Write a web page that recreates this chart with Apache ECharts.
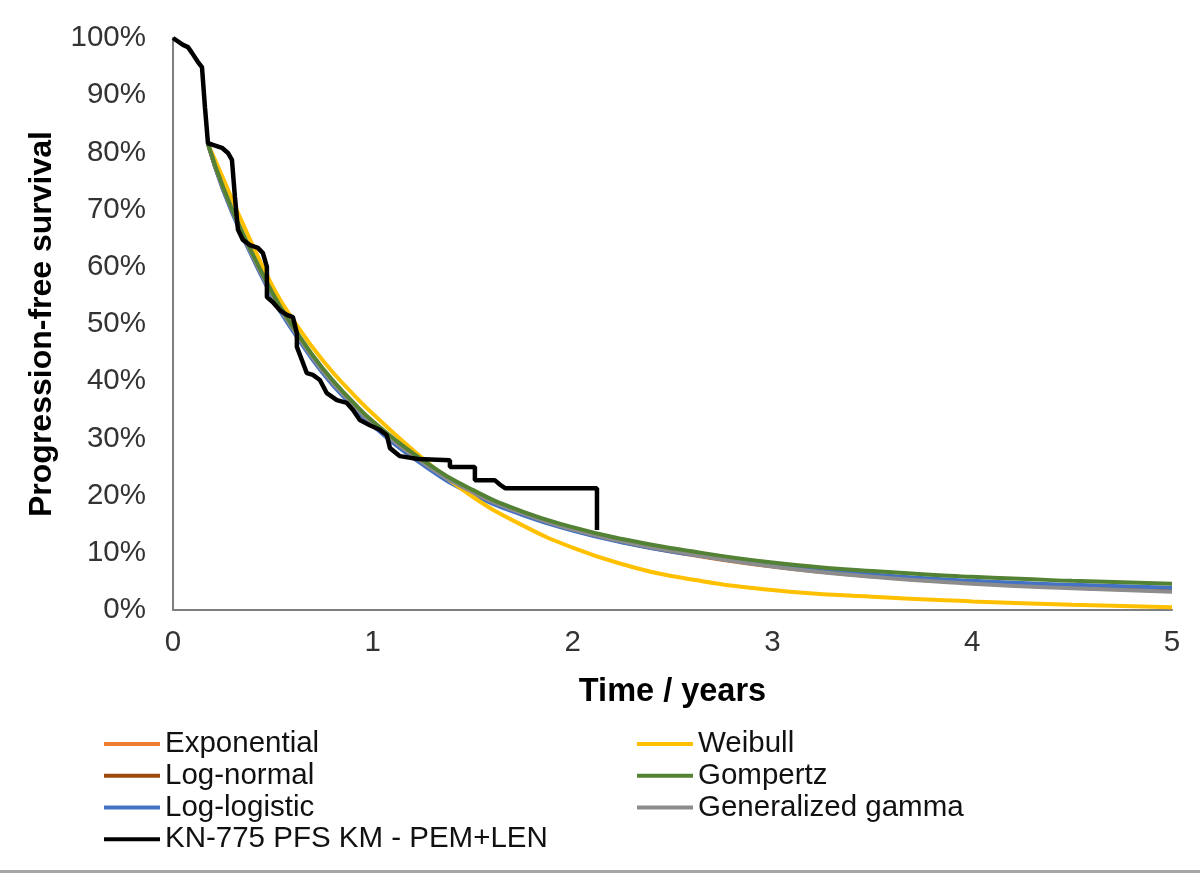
<!DOCTYPE html>
<html>
<head>
<meta charset="utf-8">
<script src="https://cdn.jsdelivr.net/npm/echarts@6/dist/echarts.min.js"></script>
<style>
  html, body { margin: 0; padding: 0; background: #fff; }
  .frame {
    width: 1200px;
    height: 870px;
    border-bottom: 3px solid #a6a6a6;
  }
  #chart { width: 1200px; height: 870px; }
</style>
</head>
<body>
<div class="frame"><div id="chart"></div></div>
<script>
// time grid (years) for the parametric fits
const fitTimes = [0.175, 0.25, 0.35, 0.5, 0.6, 0.75, 0.9, 1.0, 1.25, 1.5, 1.75, 2.0, 2.25, 2.5, 3, 3.5, 4, 4.5, 5]

// survival (%)
const exponential = [81.5, 73.7, 65.4, 54.8, 49.1, 41.7, 35.9, 32.5, 25.7, 20.5, 16.8, 14.0, 11.9, 10.2, 7.6, 5.9, 4.7, 3.9, 3.3]
const logNormal = [81.5, 73.7, 65.4, 54.8, 49.1, 41.7, 35.9, 32.5, 25.7, 20.5, 16.8, 14.0, 11.9, 10.3, 7.7, 6.0, 4.8, 4.0, 3.4]
const logLogistic = [81.5, 73.5, 65.2, 54.5, 48.8, 41.4, 35.6, 32.2, 25.4, 20.2, 16.6, 13.9, 11.8, 10.2, 7.8, 6.2, 5.1, 4.4, 3.9]
const weibull = [81.5, 75.5, 67.5, 56.5, 50.8, 43.6, 37.8, 34.3, 26.5, 19.8, 14.8, 10.9, 8.0, 5.9, 3.5, 2.3, 1.5, 0.9, 0.5]
const gompertz = [81.5, 74.0, 65.8, 55.3, 49.6, 42.2, 36.4, 33.0, 26.2, 21.0, 17.2, 14.5, 12.4, 10.8, 8.3, 6.8, 5.8, 5.1, 4.6]
const genGamma = [81.5, 73.8, 65.5, 54.9, 49.2, 41.8, 36.0, 32.6, 25.8, 20.6, 16.9, 14.1, 12.0, 10.3, 7.6, 5.8, 4.6, 3.8, 3.2]

// Kaplan-Meier points [years, %]
const kmTimes = [0, 0.05, 0.075, 0.095, 0.125, 0.145, 0.16, 0.175, 0.2, 0.245, 0.275, 0.295, 0.31, 0.325, 0.35, 0.385, 0.425, 0.45, 0.47, 0.47, 0.5, 0.535, 0.57, 0.6, 0.62, 0.62, 0.645, 0.67, 0.7, 0.735, 0.77, 0.82, 0.87, 0.9, 0.935, 0.985, 1.035, 1.07, 1.086, 1.136, 1.226, 1.386, 1.386, 1.511, 1.511, 1.61, 1.637, 1.662, 2.122, 2.122]
const kmSurv = [100, 98.8, 98.4, 97.4, 95.8, 94.9, 87.9, 81.6, 81.3, 80.8, 79.9, 78.7, 72.2, 66.5, 64.7, 63.8, 63.3, 62.4, 60.0, 54.7, 53.8, 52.4, 51.6, 51.2, 48.4, 46.0, 43.7, 41.4, 41.1, 40.2, 37.9, 36.7, 36.2, 35.0, 33.2, 32.3, 31.5, 30.6, 28.3, 26.9, 26.4, 26.2, 25.0, 25.0, 22.7, 22.7, 21.9, 21.3, 21.3, 14.0]

const yTicks = [0, 10, 20, 30, 40, 50, 60, 70, 80, 90, 100]

const font = '"Liberation Sans", Arial, sans-serif'

function fit(name, values, color) {
  return {
    name,
    type: 'line',
    smooth: true,
    showSymbol: false,
    data: fitTimes.map((t, i) => [t, values[i]]),
    lineStyle: { width: 4, color },
    itemStyle: { color },
  }
}

const legendBase = {
  orient: 'vertical',
  top: 728,
  padding: 0,
  itemGap: 0,
  itemWidth: 56,
  itemHeight: 4,
  icon: 'rect',
  textStyle: { fontSize: 29.5, lineHeight: 31.8, color: '#111', fontFamily: font },
}

const chart = echarts.init(document.getElementById('chart'))

chart.setOption({
  animation: false,
  textStyle: { fontFamily: font },
  grid: { left: 173, right: 28, top: 38, bottom: 260 },
  legend: [
    {
      ...legendBase,
      left: 104,
      itemTextGap: 5,
      data: ['Exponential', 'Log-normal', 'Log-logistic', 'KN-775 PFS KM - PEM+LEN'],
    },
    {
      ...legendBase,
      left: 637,
      itemTextGap: 8,
      data: ['Weibull', 'Gompertz', 'Generalized gamma'],
    },
  ],
  xAxis: {
    type: 'value',
    min: 0,
    max: 5,
    interval: 1,
    name: 'Time / years',
    nameLocation: 'middle',
    nameGap: 66,
    nameTextStyle: { fontSize: 32.5, fontWeight: 'bold', color: '#000' },
    axisLine: { lineStyle: { color: '#7f7f7f', width: 2 } },
    axisTick: { show: false },
    splitLine: { show: false },
    axisLabel: { fontSize: 29.5, color: '#333', margin: 18 },
  },
  yAxis: {
    type: 'value',
    min: yTicks[0],
    max: yTicks[yTicks.length - 1],
    interval: 10,
    name: 'Progression-free survival',
    nameLocation: 'middle',
    nameGap: 115,
    nameTextStyle: { fontSize: 32, fontWeight: 'bold', color: '#000' },
    axisLine: { show: true, lineStyle: { color: '#7f7f7f', width: 2 } },
    axisTick: { show: false },
    splitLine: { show: false },
    axisLabel: { fontSize: 29.5, color: '#333', margin: 27, formatter: '{value}%' },
  },
  series: [
    fit('Exponential', exponential, '#ed7d31'),
    fit('Log-normal', logNormal, '#9e480e'),
    fit('Log-logistic', logLogistic, '#4472c4'),
    fit('Weibull', weibull, '#ffc000'),
    fit('Generalized gamma', genGamma, '#8c8c8c'),
    fit('Gompertz', gompertz, '#548235'),
    {
      name: 'KN-775 PFS KM - PEM+LEN',
      type: 'line',
      showSymbol: false,
      data: kmTimes.map((t, i) => [t, kmSurv[i]]),
      lineStyle: { width: 4.5, color: '#000' },
      itemStyle: { color: '#000' },
    },
  ],
})
</script>
</body>
</html>
